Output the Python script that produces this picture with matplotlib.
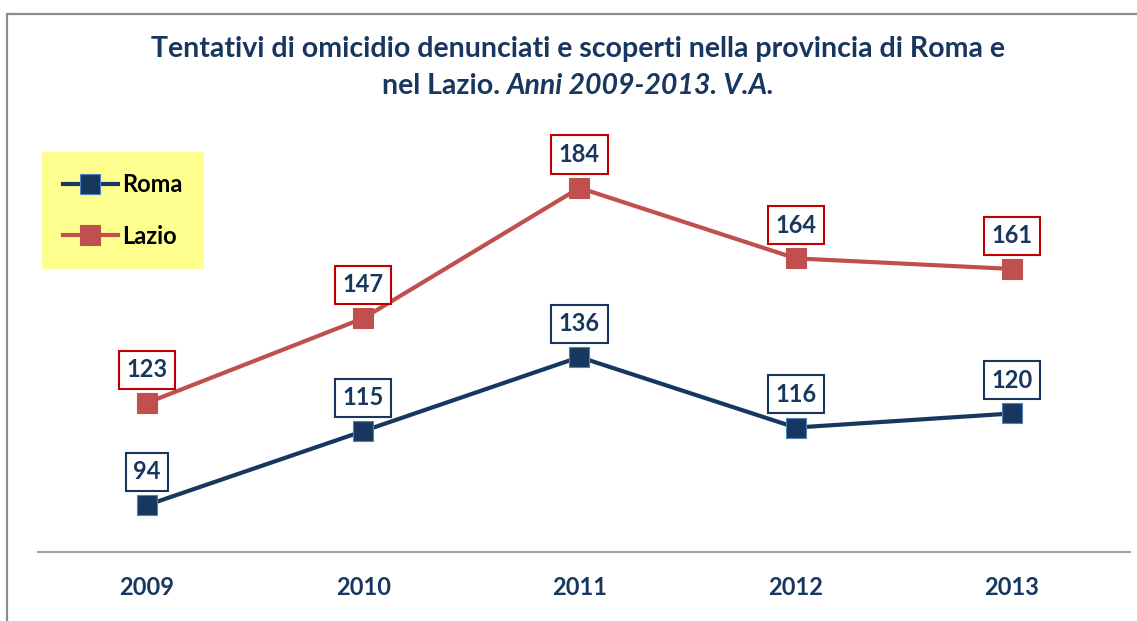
import matplotlib
matplotlib.use("Agg")
import matplotlib.pyplot as plt
from matplotlib.patches import Rectangle

years = ["2009", "2010", "2011", "2012", "2013"]
roma = [94, 115, 136, 116, 120]
lazio = [123, 147, 184, 164, 161]

NAVY = "#17375E"
RED_LINE = "#C0504D"
RED_BOX = "#C00000"
TITLE_C = "#17375E"

plt.rcParams["font.family"] = ["Lato", "DejaVu Sans"]

fig = plt.figure(figsize=(11.37, 6.21), dpi=100)
W, H = 1137, 621
ax = fig.add_axes([38 / W, (H - 552) / H, (1130 - 38) / W, (552 - 129) / H])

# outer frame (top + left visible)
fig.patches.append(Rectangle((7 / W, -0.05), 1.2, (H - 14) / H + 0.05,
                             transform=fig.transFigure, fill=False,
                             edgecolor="#8C8C8C", lw=1.6))

x = list(range(len(years)))
ax.plot(x, roma, "-s", color=NAVY, lw=3, ms=14, mfc=NAVY, mec="#4F81BD",
        mew=0.8, label="Roma")
ax.plot(x, lazio, "-s", color=RED_LINE, lw=3, ms=14, mfc=RED_LINE,
        mec=RED_LINE, mew=0.8, label="Lazio")

for vals, edge in [(roma, NAVY), (lazio, RED_BOX)]:
    for xi, v in zip(x, vals):
        ax.annotate(str(v), (xi, v), xytext=(0, 24), textcoords="offset points",
                    ha="center", va="center", fontsize=17, fontweight="bold",
                    color=NAVY,
                    bbox=dict(boxstyle="square,pad=0.32", fc="white", ec=edge, lw=1.5))

ax.set_xlim(-0.504, 4.546)
ax.set_ylim(80.7, 200.7)
ax.set_xticks(x)
ax.set_xticklabels(years, fontsize=17, fontweight="bold", color=NAVY)
ax.tick_params(axis="x", length=0, pad=17)
ax.set_yticks([])
for s in ["top", "right", "left"]:
    ax.spines[s].set_visible(False)
ax.spines["bottom"].set_color("#A0A0A0")
ax.spines["bottom"].set_linewidth(1.5)

leg = ax.legend(loc="upper left", bbox_to_anchor=(42 / W, 1 - 152 / H),
                bbox_transform=fig.transFigure, frameon=True, fancybox=False,
                prop=dict(size=17, weight="bold"), handlelength=2.3,
                labelspacing=1.2, borderpad=0.9, handletextpad=0.2,
                borderaxespad=0)
leg.get_frame().set_facecolor("#FFFF8F")
leg.get_frame().set_edgecolor("none")
leg.get_frame().set_alpha(1)

TS = 20.5
fig.text(578 / W, 1 - 49 / H,
         "Tentativi di omicidio denunciati e scoperti nella provincia di Roma e",
         ha="center", va="center", fontsize=TS, fontweight="bold", color=TITLE_C)

# second title line: upright part + italic part, centred together
r = fig.canvas.get_renderer()
t1 = fig.text(0, 1 - 86 / H, "nel Lazio. ", ha="left", va="center",
              fontsize=TS, fontweight="bold", color=TITLE_C)
t2 = fig.text(0, 1 - 86 / H, "Anni 2009-2013. V.A.", ha="left", va="center",
              fontsize=TS, fontweight="bold", style="italic", color=TITLE_C)
w1 = t1.get_window_extent(r).width
w2 = t2.get_window_extent(r).width
x0 = 578 - (w1 + w2) / 2
t1.set_x(x0 / W)
t2.set_x((x0 + w1) / W)

fig.savefig("out.png", dpi=100, facecolor="white")
